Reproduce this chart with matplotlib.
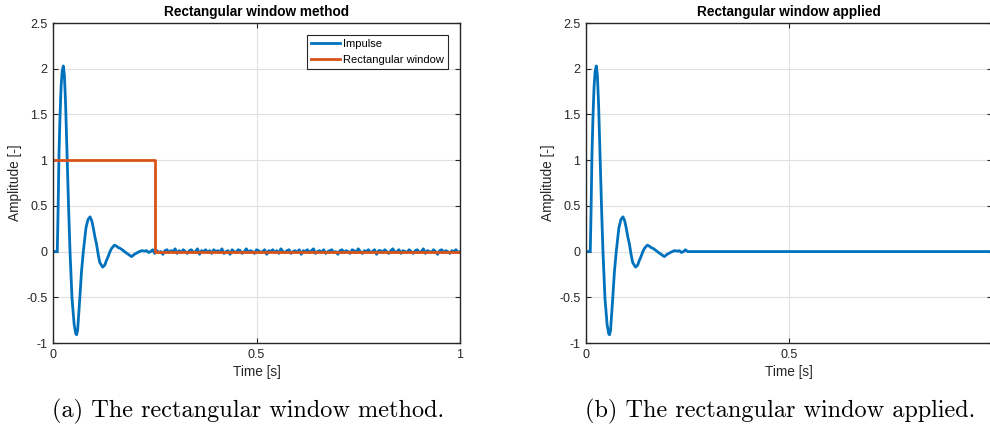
import numpy as np
import matplotlib
matplotlib.use("Agg")
from matplotlib import pyplot as plt

# measured impulse response: the transient part, read point by point
t_head = [0.000, 0.0105, 0.0125, 0.0147, 0.0170, 0.0197, 0.0225, 0.0253, 0.0280, 0.0310,
          0.0350, 0.0385, 0.0418, 0.0467, 0.0520, 0.0560, 0.0580, 0.0605, 0.0660, 0.0700,
          0.0745, 0.0810, 0.0860, 0.0910, 0.0950, 0.0990, 0.1030, 0.1070, 0.1110, 0.1150,
          0.1220, 0.1270, 0.1320, 0.1360, 0.1400, 0.1440, 0.1510, 0.1560, 0.1600, 0.1650,
          0.1700, 0.1770, 0.1850, 0.1930, 0.2000, 0.2100, 0.2180, 0.2260]
y_head = [0.00, 0.00, 0.45, 1.06, 1.45, 1.79, 1.97, 2.03, 1.93, 1.61,
          0.98, 0.45, 0.00, -0.51, -0.80, -0.90, -0.91, -0.86, -0.50, -0.22,
          0.00, 0.26, 0.35, 0.38, 0.34, 0.26, 0.16, 0.08, -0.03, -0.12,
          -0.17, -0.15, -0.09, -0.05, 0.00, 0.035, 0.07, 0.06, 0.045, 0.035,
          0.02, -0.005, -0.03, -0.055, -0.03, -0.005, 0.01, 0.005]

# noise floor after the transient, one sample every 5 ms from 0.23 s to 1 s
tail_start = 0.230
tail_step = 0.005
y_tail = [0.01, -0.01, 0.00, 0.02, -0.02, 0.01, -0.01, 0.00, -0.03, 0.01,
          0.02, -0.01, 0.01, 0.00, 0.03, -0.02, 0.01, -0.01, 0.02, 0.00,
          -0.02, 0.01, 0.02, -0.01, 0.00, 0.03, -0.03, 0.01, 0.00, 0.02,
          -0.01, 0.01, -0.02, 0.02, 0.00, 0.01, -0.01, 0.03, -0.02, 0.00,
          0.01, -0.03, 0.02, 0.00, -0.01, 0.02, 0.01, -0.02, 0.00, 0.03,
          -0.01, 0.01, 0.00, -0.02, 0.02, 0.01, -0.01, 0.00, 0.02, -0.03,
          0.01, 0.00, 0.02, -0.01, 0.01, -0.02, 0.03, 0.00, -0.01, 0.01,
          0.02, -0.02, 0.00, 0.01, -0.01, 0.02, -0.03, 0.01, 0.00, 0.02,
          -0.01, 0.01, 0.03, -0.02, 0.00, 0.01, -0.01, 0.02, -0.02, 0.00,
          0.01, 0.02, -0.01, 0.00, -0.03, 0.01, 0.02, -0.01, 0.01, 0.00,
          -0.02, 0.02, 0.01, -0.01, 0.03, 0.00, -0.02, 0.01, 0.00, 0.02,
          -0.01, 0.00, 0.02, -0.03, 0.01, 0.01, -0.01, 0.02, 0.00, -0.02,
          0.01, 0.03, -0.01, 0.00, 0.02, -0.02, 0.01, 0.00, -0.01, 0.02,
          0.00, -0.02, 0.01, 0.02, -0.01, 0.00, 0.03, -0.02, 0.01, 0.00,
          -0.01, 0.02, 0.00, -0.03, 0.01, 0.02, -0.01, 0.01, 0.00, -0.02,
          0.01, 0.00, 0.02, -0.01, 0.00]

# rectangular window: 1 up to the cut time, 0 afterwards
win_cut = 0.25
win_t = [0.0, win_cut, win_cut, 1.0]
win_y = [1.0, 1.0, 0.0, 0.0]

x_ticks = [0, 0.5, 1]
x_ticklabels = ["0", "0.5", "1"]
y_ticks = [-1, -0.5, 0, 0.5, 1, 1.5, 2, 2.5]
y_ticklabels = ["-1", "-0.5", "0", "0.5", "1", "1.5", "2", "2.5"]

t_tail = tail_start + tail_step * np.arange(len(y_tail))
t = np.concatenate([t_head, t_tail])
imp = np.concatenate([y_head, y_tail])
imp_win = np.where(t < win_cut, imp, 0.0)

BLUE = "#0072BD"
ORANGE = "#D95319"
DARK = "#262626"

plt.rcParams["font.family"] = ["Liberation Sans", "DejaVu Sans"]
plt.rcParams["font.size"] = 9

fig = plt.figure(figsize=(9.9, 4.32), dpi=100)
ax1 = fig.add_axes([53 / 990, 89 / 432, 407 / 990, 320 / 432])
ax2 = fig.add_axes([586 / 990, 89 / 432, 406 / 990, 320 / 432])


def style(ax, title, xlabels):
    ax.set_xlim(0, 1)
    ax.set_ylim(-1, 2.5)
    ax.set_xticks(x_ticks)
    ax.set_xticklabels(xlabels)
    ax.set_yticks(y_ticks)
    ax.set_yticklabels(y_ticklabels)
    ax.grid(True, color="#e0e0e0", linewidth=0.8)
    ax.set_axisbelow(True)
    ax.tick_params(direction="in", length=3.5, width=0.8, top=True, right=True,
                   colors=DARK, labelsize=9, pad=4)
    for s in ax.spines.values():
        s.set_color(DARK)
        s.set_linewidth(1.0)
    ax.set_title(title, fontsize=9.8, fontweight="bold", pad=5, color="black")
    ax.set_xlabel("Time [s]", fontsize=9.8, color=DARK, labelpad=3)
    ax.set_ylabel("Amplitude [-]", fontsize=9.8, color=DARK, labelpad=3)


ax1.plot(t, imp, color=BLUE, linewidth=2.0, label="Impulse")
ax1.plot(win_t, win_y, color=ORANGE, linewidth=2.0, label="Rectangular window")
style(ax1, "Rectangular window method", x_ticklabels)
leg = ax1.legend(loc="upper right", fontsize=8, fancybox=False, framealpha=1,
                 edgecolor=DARK, handlelength=2.6, borderpad=0.35, labelspacing=0.5,
                 borderaxespad=1.1, handletextpad=0.3)
leg.get_frame().set_linewidth(0.8)

# the right panel runs past the figure edge, so its last tick label is left out
ax2.plot(t, imp_win, color=BLUE, linewidth=2.0)
style(ax2, "Rectangular window applied", x_ticklabels[:-1] + [""])

fig.text(248 / 990, 1 - 411 / 432, "(a) The rectangular window method.",
         family=["cmr10", "DejaVu Serif"], fontsize=17.5, ha="center", va="center")
fig.text(780 / 990, 1 - 411 / 432, "(b) The rectangular window applied.",
         family=["cmr10", "DejaVu Serif"], fontsize=17.5, ha="center", va="center")

fig.savefig("out.png", dpi=100)
